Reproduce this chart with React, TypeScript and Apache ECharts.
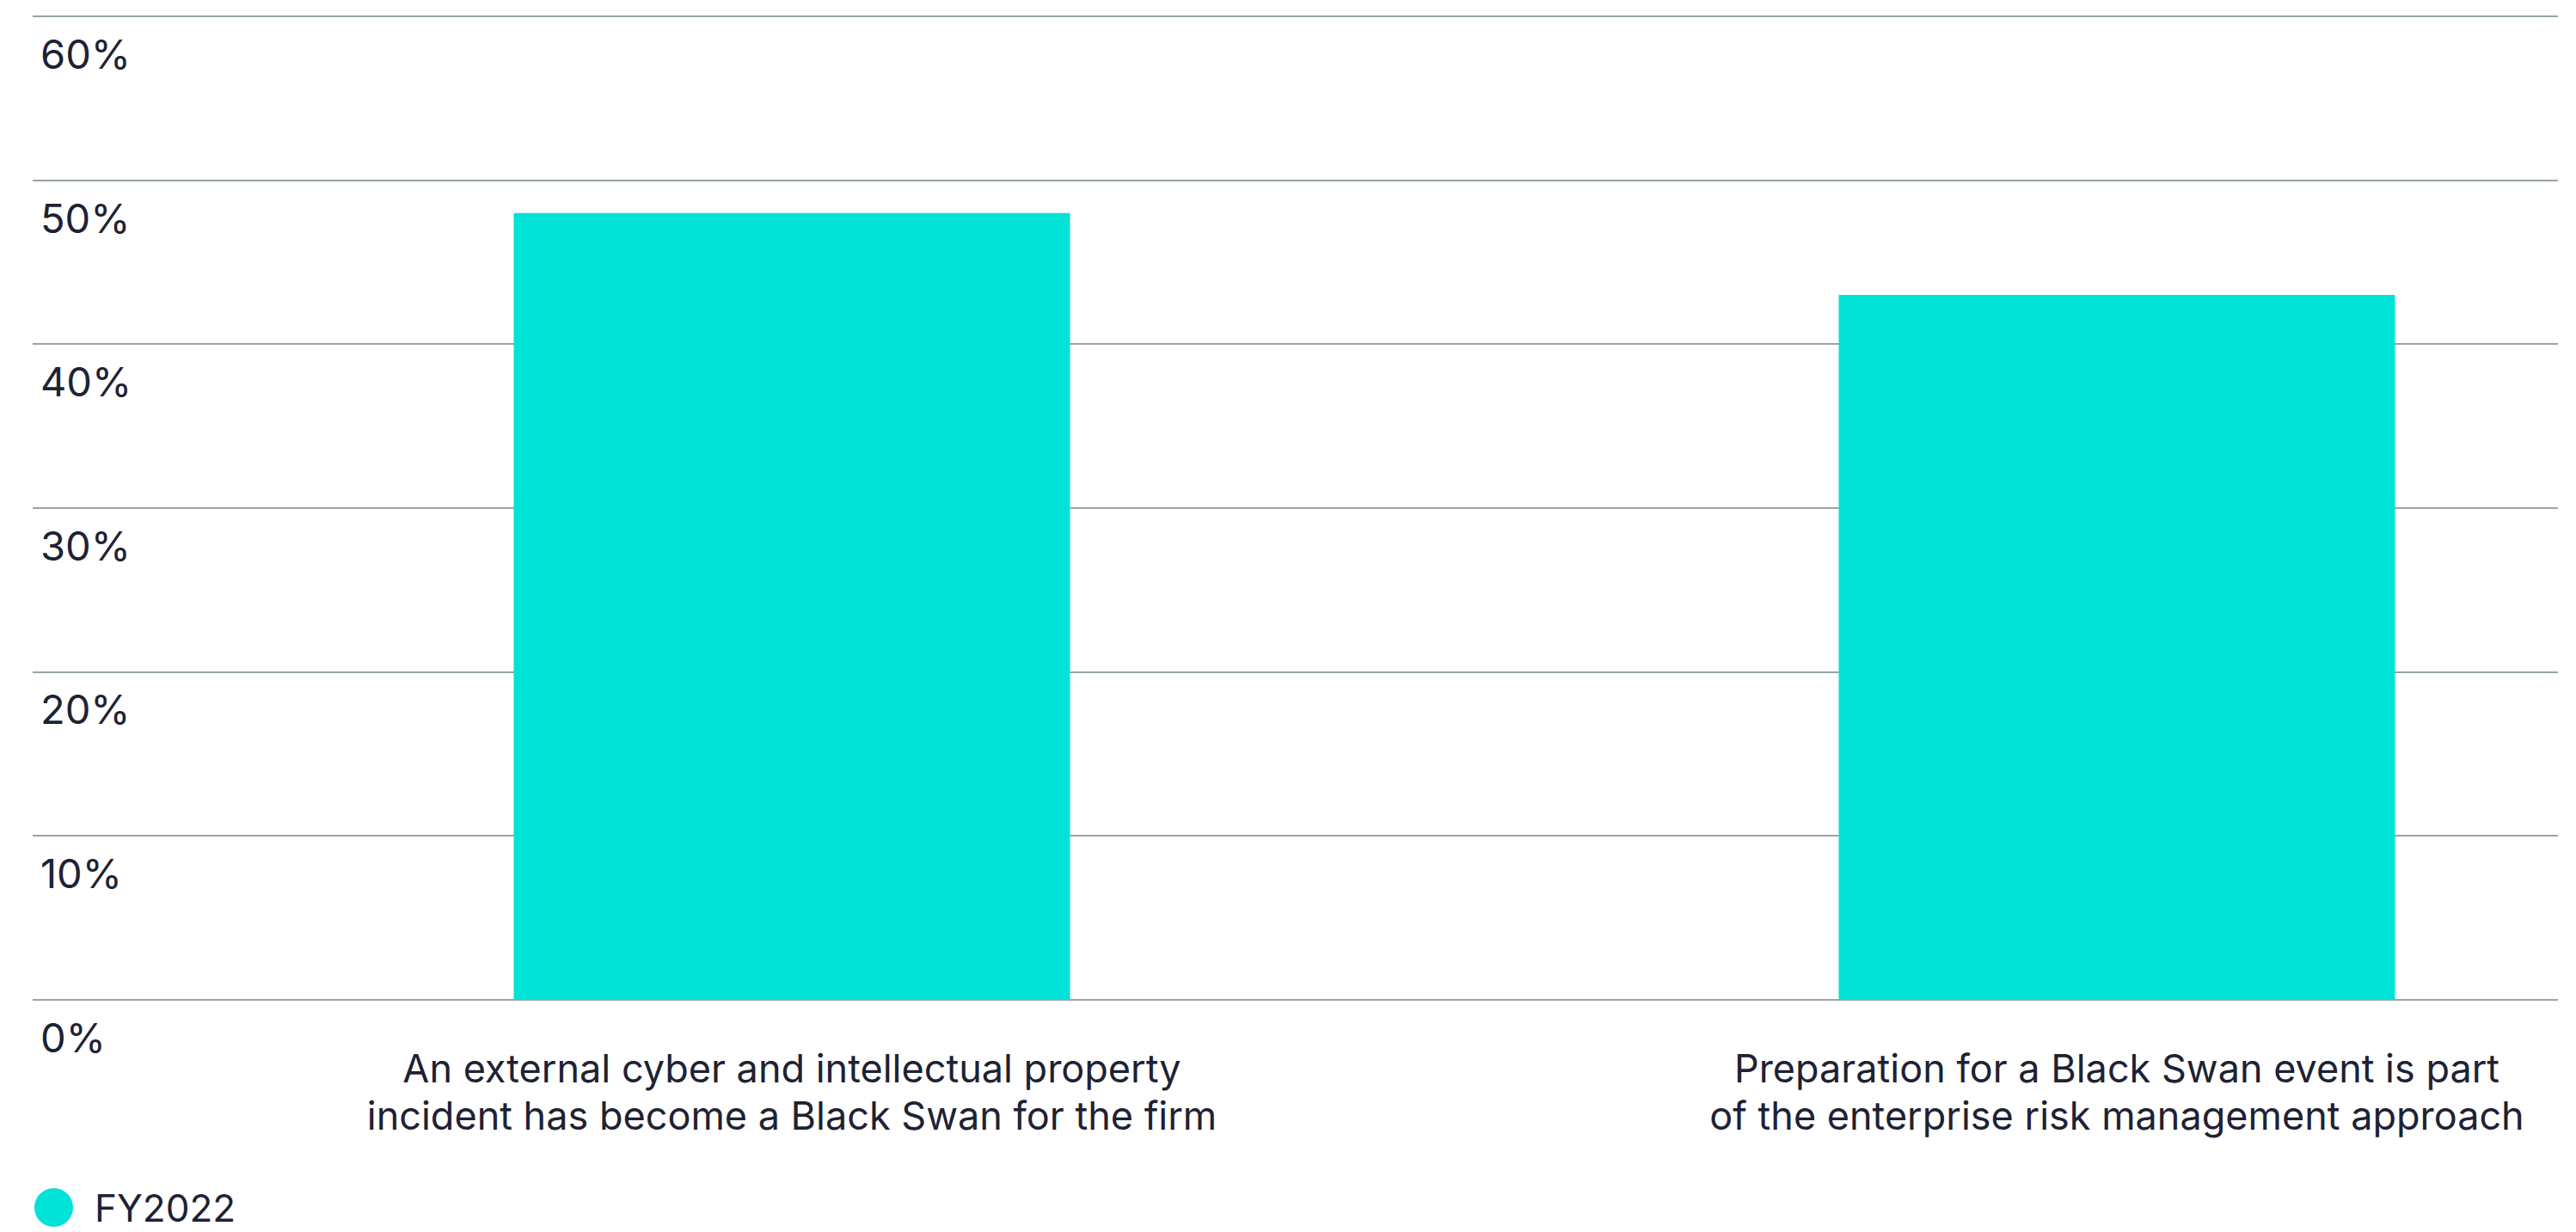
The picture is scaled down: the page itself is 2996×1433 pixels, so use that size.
import React, { useEffect, useRef } from "react";
import * as echarts from "echarts";

const categories = [
  "An external cyber and intellectual property\nincident has become a Black Swan for the firm",
  "Preparation for a Black Swan event is part\nof the enterprise risk management approach",
];
const seriesName = "FY2022";
const values = [48, 43];
const yTicks = [0, 10, 20, 30, 40, 50, 60];

const TEXT = "#1E2233";
const BAR = "#02E3D8";
const GRID = "#97A4AB";
const FONT = "Inter, 'Noto Sans', sans-serif";

export default function App() {
  const ref = useRef<HTMLDivElement>(null);
  useEffect(() => {
    document.body.style.margin = "0";
    const chart = echarts.init(ref.current!, null, { renderer: "svg" });
    chart.setOption({
      animation: false,
      backgroundColor: "#ffffff",
      textStyle: { fontFamily: FONT },
      legend: {
        left: 40,
        top: 1382,
        padding: 0,
        icon: "circle",
        itemWidth: 45,
        itemHeight: 45,
        data: [seriesName],
        textStyle: {
          fontSize: 44,
          lineHeight: 44,
          color: TEXT,
          fontFamily: FONT,
          padding: [0, 0, 0, 20],
        },
      },
      grid: [
        { left: 38, right: 21, top: 19, bottom: 270.5 },
        { left: 921, right: 534, top: 19, bottom: 270.5 },
      ],
      xAxis: [
        { type: "category", gridIndex: 0, data: ["a"], show: false },
        {
          type: "category",
          gridIndex: 1,
          data: categories,
          boundaryGap: false,
          axisLine: { show: false },
          axisTick: { show: false },
          splitLine: { show: false },
          axisLabel: {
            interval: 0,
            margin: 52,
            fontSize: 45,
            lineHeight: 55,
            color: TEXT,
            fontFamily: FONT,
            align: "center",
          },
        },
      ],
      yAxis: [
        {
          type: "value",
          gridIndex: 0,
          min: yTicks[0],
          max: yTicks[yTicks.length - 1],
          interval: 10,
          axisLine: { show: false },
          axisTick: { show: false },
          splitLine: { lineStyle: { color: GRID, width: 2 } },
          axisLabel: {
            inside: true,
            margin: 9,
            align: "left",
            verticalAlign: "top",
            padding: [20, 0, 0, 0],
            fontSize: 47,
            color: TEXT,
            fontFamily: FONT,
            formatter: (v: number) => v + "%",
          },
        },
        {
          type: "value",
          gridIndex: 1,
          min: yTicks[0],
          max: yTicks[yTicks.length - 1],
          interval: 10,
          show: false,
          splitLine: { show: false },
        },
      ],
      series: [
        {
          name: seriesName,
          type: "bar",
          xAxisIndex: 1,
          yAxisIndex: 1,
          data: values,
          barWidth: 647,
          clip: false,
          itemStyle: { color: BAR },
          z: 3,
        },
      ],
    });
    return () => chart.dispose();
  }, []);
  return <div ref={ref} style={{ width: 2996, height: 1433 }} />;
}
